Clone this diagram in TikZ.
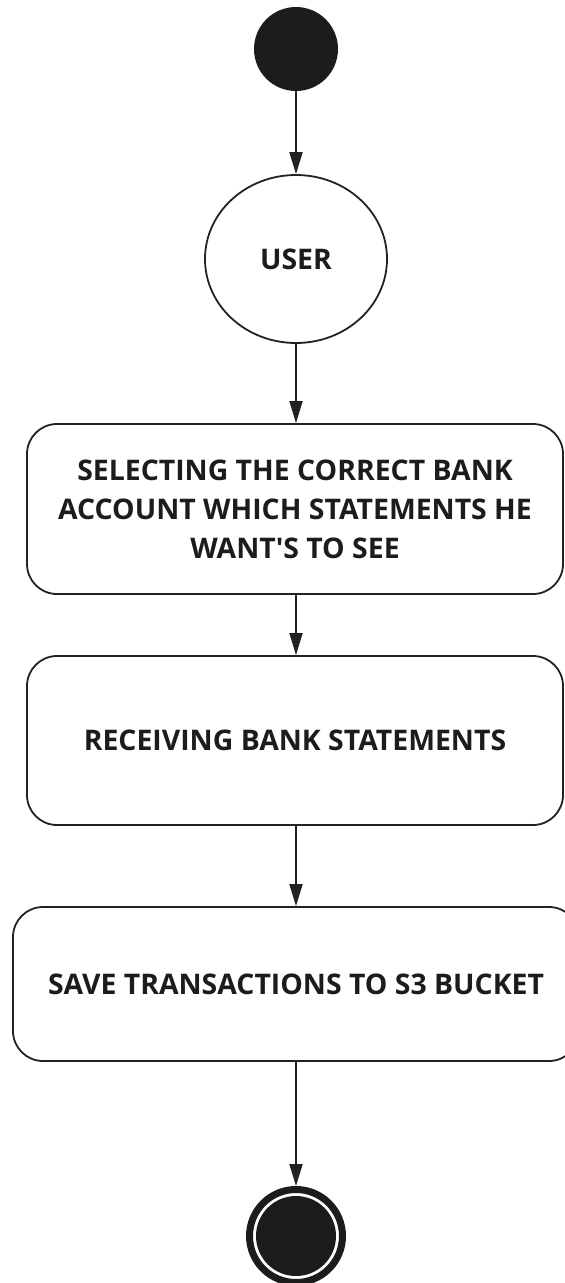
\documentclass[tikz,border=0pt]{standalone}
\usepackage{fontspec}
\setmainfont{Open Sans}
\usetikzlibrary{arrows.meta,shapes.geometric}
\definecolor{ink}{HTML}{1C1C1C}
\definecolor{edge}{HTML}{222222}
\begin{document}
\begin{tikzpicture}[x=1pt,y=-1pt,
  every node/.style={text=ink},
  lbl/.style={font=\fontsize{28.4}{39}\selectfont\bfseries, align=center},
  initial/.style={circle, fill=ink, draw=none, minimum size=84pt, inner sep=0pt},
  actor/.style={ellipse, draw=edge, line width=1.8pt, minimum width=182pt, minimum height=168pt, inner sep=0pt, lbl},
  stepbox/.style={rectangle, rounded corners=30pt, draw=edge, line width=1.8pt, inner sep=0pt, lbl},
  final/.style={circle, draw=ink, line width=7pt, minimum size=93pt, inner sep=0pt,
    path picture={\fill[ink] (path picture bounding box.center) circle (40pt);}},
  flow/.style={draw=edge, line width=1.8pt, -{Triangle[length=22pt,width=13pt]}}
]
\path[use as bounding box] (0,0) rectangle (565,1283);

\node[initial] (start) at (296,49) {};
\node[actor] (user) at (296,259) {USER};
\node[stepbox, minimum width=536pt, minimum height=170pt] (select) at (295,509)
  {SELECTING THE CORRECT BANK\\ACCOUNT WHICH STATEMENTS HE\\WANT\textquotesingle S TO SEE};
\node[stepbox, minimum width=536pt, minimum height=169pt] (receive) at (295,740.5)
  {RECEIVING BANK STATEMENTS};
\node[stepbox, minimum width=566pt, minimum height=154pt] (save) at (296,984)
  {SAVE TRANSACTIONS TO S3 BUCKET};
\node[final] (finish) at (296,1236) {};

\draw[flow] (start) -- (user);
\draw[flow] (user) -- (user |- select.north);
\draw[flow] (select.south -| user) -- (user |- receive.north);
\draw[flow] (receive.south -| user) -- (save.north);
\draw[flow] (save) -- (finish);
\end{tikzpicture}
\end{document}
